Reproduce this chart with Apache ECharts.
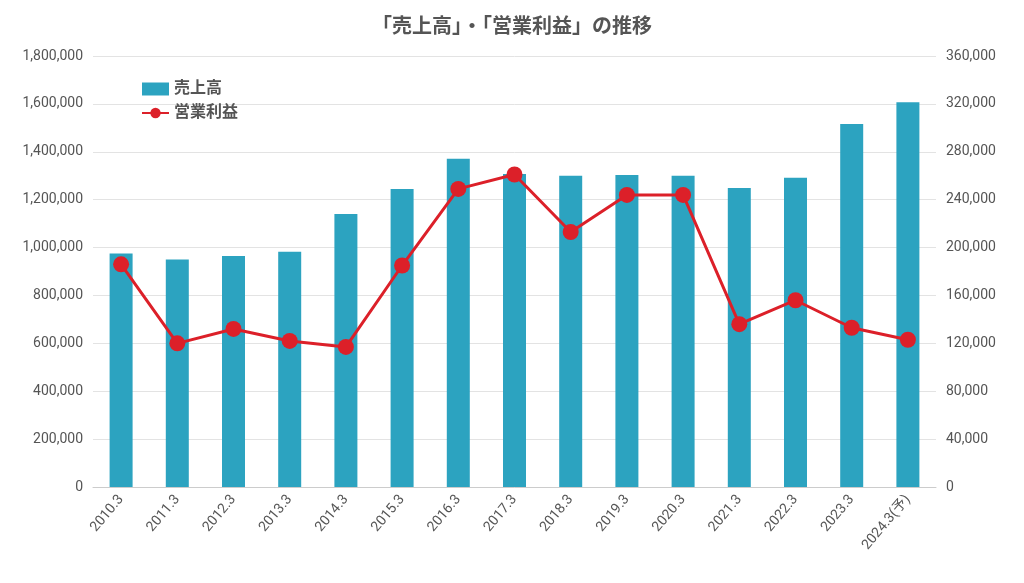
<!DOCTYPE html>
<html><head><meta charset="utf-8">
<script src="https://cdn.jsdelivr.net/npm/echarts@6/dist/echarts.min.js"></script>
<style>html,body{margin:0;padding:0;background:#fff}#c{width:1024px;height:583px}</style>
</head><body><div id="c"></div>
<script>
const categories = ['2010.3','2011.3','2012.3','2013.3','2014.3','2015.3','2016.3','2017.3','2018.3','2019.3','2020.3','2021.3','2022.3','2023.3','2024.3(予)'];
const sales = [975000,950000,965000,982000,1140000,1245000,1371000,1307000,1300000,1303000,1300000,1249000,1292000,1516000,1607000];
const operatingProfit = [186000,120000,132000,122000,117000,185000,249000,261000,213000,244000,244000,136000,156000,133000,123000];
const leftTicks = {min:0, max:1800000, interval:200000};
const rightTicks = {min:0, max:360000, interval:40000};

const font = 'Roboto, "Noto Sans CJK JP", sans-serif';
const chart = echarts.init(document.getElementById('c'));
const fmt = v => v.toLocaleString('en-US');
chart.setOption({
  animation:false,
  textStyle:{fontFamily:font},
  title:{text:'「売上高」・「営業利益」の推移', left:'center', top:10,
    textStyle:{fontSize:20, fontWeight:'bold', color:'#555', fontFamily:'"Noto Sans CJK JP", sans-serif'}},
  legend:{orient:'vertical', left:136, top:76, itemGap:8, itemWidth:27, itemHeight:13,
    textStyle:{fontSize:16, fontWeight:'bold', color:'#555', fontFamily:font},
    data:[{name:'売上高', icon:'rect'},{name:'営業利益'}]},
  grid:{left:93, right:88, top:56, bottom:96, containLabel:false},
  xAxis:{type:'category', data:categories,
    axisLine:{lineStyle:{color:'#ccc'}}, axisTick:{show:false},
    axisLabel:{rotate:50, color:'#555', fontSize:14, margin:10, interval:0, fontFamily:font}},
  yAxis:[
    {type:'value', min:leftTicks.min, max:leftTicks.max, interval:leftTicks.interval,
      axisLabel:{formatter:fmt, color:'#555', fontSize:14, margin:10, fontFamily:font},
      splitLine:{lineStyle:{color:'#e3e3e3'}}, axisLine:{show:false}, axisTick:{show:false}},
    {type:'value', min:rightTicks.min, max:rightTicks.max, interval:rightTicks.interval,
      axisLabel:{formatter:fmt, color:'#555', fontSize:14, margin:10, fontFamily:font},
      splitLine:{show:false}, axisLine:{show:false}, axisTick:{show:false}}
  ],
  series:[
    {name:'売上高', type:'bar', data:sales, barWidth:23, itemStyle:{color:'#2ca3c0'}},
    {name:'営業利益', type:'line', yAxisIndex:1, data:operatingProfit, symbol:'circle', symbolSize:16,
      lineStyle:{color:'#dc2029', width:3}, itemStyle:{color:'#dc2029'}}
  ]
});
</script></body></html>
